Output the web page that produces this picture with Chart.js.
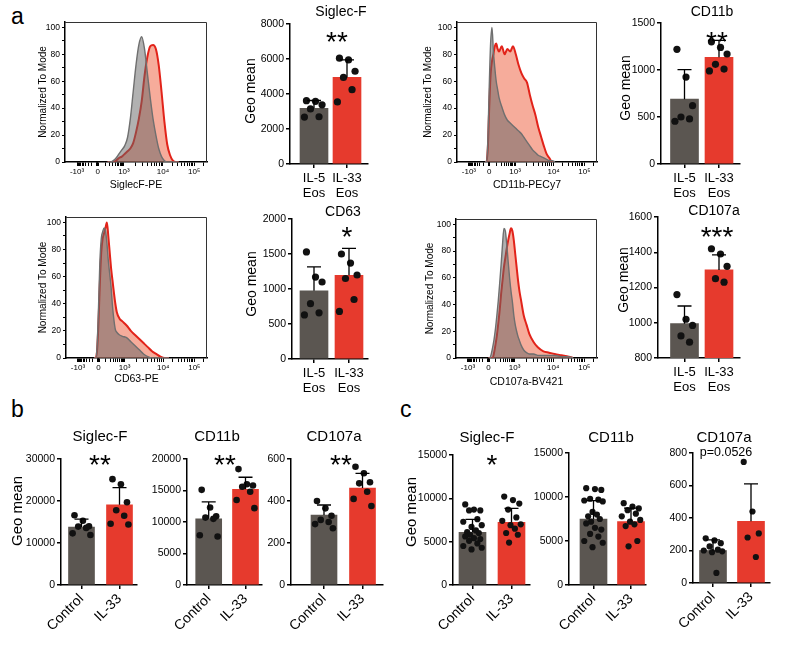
<!DOCTYPE html>
<html>
<head>
<meta charset="utf-8">
<title>Eosinophil activation markers</title>
<script src="https://cdn.jsdelivr.net/npm/chart.js@4.4.1/dist/chart.umd.min.js"></script>
<style>
  html, body { margin: 0; padding: 0; background: #fff; }
  body { position: relative; width: 800px; height: 649px; overflow: hidden; font-family: "Liberation Sans", Arial, sans-serif; }
  canvas { position: absolute; }
  .panel { position: absolute; font-size: 23px; line-height: 1; color: #000; }
</style>
</head>
<body>
<div class="panel" style="left:11px;top:5px">a</div>
<div class="panel" style="left:11px;top:398px">b</div>
<div class="panel" style="left:400px;top:398px">c</div>
<script>
const FONT = '"Liberation Sans", Arial, Helvetica, sans-serif';
const GREY = '#5b5651';
const RED = '#e63a2d';
Chart.defaults.font.family = FONT;
Chart.defaults.color = '#000';

// ---- panel a histograms: x = display channel (0-1000), y = % of mode
const logTickPos = [85, 230, 415, 690, 910];
const logTickLab = ['-10³', '0', '10³', '10⁴', '10⁵'];

const siglecX = [300, 320, 340, 360, 380, 400, 420, 440, 460, 480, 500, 520, 540, 560, 580, 600, 620, 640, 660, 680, 700, 720, 740, 760, 780, 800];
const siglecIL5 = [0, 0, 1, 3, 6, 9, 12, 18, 32, 52, 72, 87, 93, 84, 66, 48, 32, 20, 10, 4, 1, 0, 0, 0, 0, 0];
const siglecIL33 = [0, 0, 0, 1, 3, 4, 6, 8, 10, 14, 22, 32, 45, 64, 78, 86, 87, 84, 72, 52, 30, 13, 5, 1, 0, 0];

const cd11bX = [200, 210, 220, 230, 240, 250, 260, 270, 280, 290, 300, 320, 340, 360, 380, 400, 420, 440, 460, 480, 500, 520, 540, 560, 580, 600, 620, 640, 660, 680, 700];
const cd11bIL5 = [0, 0, 15, 55, 88, 100, 82, 70, 60, 54, 48, 41, 35, 31, 29, 27, 25, 23, 21, 18, 15, 12, 9, 7, 5, 4, 3, 2, 1, 1, 0];
const cd11bIL33 = [0, 0, 10, 40, 65, 75, 80, 86, 88, 84, 82, 86, 80, 84, 82, 86, 80, 72, 66, 62, 59, 50, 42, 35, 26, 19, 12, 6, 3, 0, 0];

const cd63X = [200, 210, 220, 230, 240, 250, 260, 270, 280, 290, 300, 310, 320, 330, 340, 350, 360, 380, 400, 430, 460, 490, 520, 550, 580, 610, 640, 670, 700, 730];
const cd63IL5 = [0, 0, 8, 35, 70, 88, 93, 96, 94, 85, 72, 62, 52, 38, 28, 21, 19, 17, 16, 15, 12, 9, 6, 3, 1, 0, 0, 0, 0, 0];
const cd63IL33 = [0, 0, 5, 25, 55, 78, 88, 92, 96, 100, 90, 78, 66, 57, 48, 40, 34, 29, 27, 24, 20, 17, 14, 11, 8, 5, 3, 1, 0, 0];

const cd107X = [230, 240, 250, 260, 270, 280, 290, 300, 310, 320, 330, 340, 350, 360, 370, 380, 390, 400, 410, 420, 430, 440, 450, 460, 480, 500, 520, 550, 580, 620, 660, 700, 750, 800, 830];
const cd107IL5 = [0, 0, 3, 8, 14, 22, 32, 43, 56, 70, 85, 97, 95, 85, 72, 60, 50, 42, 32, 25, 20, 16, 13, 10, 6, 4, 3, 3, 2, 2, 2, 2, 1, 1, 0];
const cd107IL33 = [0, 0, 0, 0, 4, 10, 17, 26, 36, 48, 58, 68, 75, 82, 88, 93, 97, 95, 88, 78, 68, 58, 50, 44, 32, 25, 18, 12, 8, 5, 4, 3, 2, 1, 0];

// ---- bar graphs: group means, SD and single values
const eosGroups = [['IL-5', 'Eos'], ['IL-33', 'Eos']];
const treatGroups = ['Control', 'IL-33'];

const aSiglecMean = [3180, 4950];
const aSiglecSd = [450, 1000];
const aSiglecIL5 = [3620, 3580, 3380, 3150, 2700, 2680];
const aSiglecIL33 = [6050, 5950, 5300, 4950, 4250, 3550];

const aCd11bMean = [690, 1135];
const aCd11bSd = [315, 180];
const aCd11bIL5 = [1220, 925, 620, 500, 480, 455];
const aCd11bIL33 = [1300, 1240, 1170, 1060, 1010, 990];

const aCd63Mean = [975, 1195];
const aCd63Sd = [340, 385];
const aCd63IL5 = [1530, 1170, 1100, 790, 660, 630];
const aCd63IL33 = [1500, 1370, 1200, 1150, 850, 680];

const aCd107Mean = [995, 1300];
const aCd107Sd = [100, 85];
const aCd107IL5 = [1160, 1020, 985, 925, 890];
const aCd107IL33 = [1420, 1390, 1320, 1250, 1230];

const bSiglecMean = [13800, 19100];
const bSiglecSd = [1900, 4100];
const bSiglecCtrl = [16600, 15300, 14000, 13900, 13600, 12300, 11900];
const bSiglecIL33 = [25200, 24000, 19700, 17800, 16500, 14600, 14400];

const bCd11bMean = [10500, 15200];
const bCd11bSd = [2700, 1900];
const bCd11bCtrl = [15100, 12300, 10900, 10700, 10500, 7900, 7700];
const bCd11bIL33 = [18400, 16000, 15800, 15600, 14800, 13500, 12200];

const bCd107Mean = [333, 462];
const bCd107Sd = [48, 70];
const bCd107Ctrl = [400, 365, 330, 310, 300, 290, 270];
const bCd107IL33 = [563, 532, 489, 484, 444, 410, 376];

const cSiglecMean = [6080, 7230];
const cSiglecSd = [1500, 1620];
const cSiglecCtrl = [9300, 8700, 8600, 8600, 7600, 7300, 6900, 6700, 6300, 6100, 6000, 5800, 5600, 5400, 5300, 5100, 4800, 4500, 4300, 4100];
const cSiglecIL33 = [10200, 9800, 9400, 8700, 7800, 7400, 7000, 6900, 6500, 6000, 5800, 4900];

const cCd11bMean = [7480, 7210];
const cCd11bSd = [2100, 1520];
const cCd11bCtrl = [11000, 10900, 10800, 9800, 9700, 9600, 9500, 8300, 8000, 7800, 7500, 7200, 7000, 6500, 6300, 5800, 5500, 5000, 4800, 4300];
const cCd11bIL33 = [9300, 8900, 8700, 8500, 8100, 7800, 7400, 7200, 6900, 6700, 5000, 4400];

const cCd107Mean = [200, 380];
const cCd107Sd = [66, 230];
const cCd107Ctrl = [275, 262, 245, 225, 205, 200, 195, 190, 62];
const cCd107IL33 = [745, 440, 305, 280, 160];

// horizontal spread of the dots inside a bar (fraction of half spread)
const JIT = [-0.75, 0.15, 0.8, -0.35, 0.5, -0.95, 0.95, -0.1, 0.35, -0.55, 0.65, -0.25];

function makeCanvas(s) {
  const c = document.createElement('canvas');
  c.width = s.cw; c.height = s.ch;
  c.style.left = s.cl + 'px'; c.style.top = s.ct + 'px';
  c.style.width = s.cw + 'px'; c.style.height = s.ch + 'px';
  document.body.appendChild(c);
  return c;
}

// minor tick marks on the biexponential axis
function minorTicks() {
  const out = [];
  for (let k = 2; k <= 9; k++) {
    out.push(415 + 275 * Math.log10(k));
    out.push(690 + 220 * Math.log10(k));
  }
  out.push(910 + 220 * Math.log10(2));
  for (let k = 1; k <= 9; k++) {
    const f = Math.log10(1 + k) / Math.log10(11);
    out.push(230 + 185 * f, 230 - 145 * f);
  }
  [-8, -5, -2, 2, 5].forEach(d => out.push(230 + d));
  return out.filter(v => v > 0 && v < 1000);
}
const HIST_TICKS = logTickPos.concat(minorTicks()).sort((a, b) => a - b);

const boxPlugin = {
  id: 'box',
  afterDraw(chart) {
    const { ctx, chartArea: a } = chart;
    ctx.save();
    ctx.strokeStyle = '#333';
    ctx.lineWidth = 1;
    ctx.beginPath();
    ctx.moveTo(a.left, a.top + 0.5);
    ctx.lineTo(a.right - 0.5, a.top + 0.5);
    ctx.lineTo(a.right - 0.5, a.bottom);
    ctx.stroke();
    ctx.restore();
  }
};

function histChart(s) {
  const cv = makeCanvas(s);
  const pts = ys => s.x.map((v, i) => ({ x: v, y: ys[i] }));
  const ticksY = [];
  for (let v = 0; v <= 100; v += 5) ticksY.push(v);
  new Chart(cv, {
    type: 'line',
    data: {
      datasets: [
        { label: 'IL-5 Eos', data: pts(s.il5), borderColor: '#6f6f6f', borderWidth: 1.4,
          backgroundColor: 'rgba(100,100,100,0.5)', fill: 'origin', pointRadius: 0, cubicInterpolationMode: 'monotone' },
        { label: 'IL-33 Eos', data: pts(s.il33), borderColor: '#e2231a', borderWidth: 2,
          backgroundColor: 'rgba(239,104,72,0.55)', fill: 'origin', pointRadius: 0, cubicInterpolationMode: 'monotone' }
      ]
    },
    options: {
      responsive: false, animation: false, events: [],
      layout: { padding: { top: s.t - s.ct, right: s.cl + s.cw - s.r, left: 0, bottom: 0 } },
      plugins: { legend: { display: false }, tooltip: { enabled: false } },
      scales: {
        x: {
          type: 'linear', min: 0, max: 1000,
          afterBuildTicks: sc => { sc.ticks = HIST_TICKS.map(v => ({ value: v })); },
          afterFit: sc => { sc.height = s.ct + s.ch - s.b; },
          ticks: {
            autoSkip: false, maxRotation: 0, padding: 1, font: { size: 8 },
            callback: v => { const i = logTickPos.indexOf(v); return i < 0 ? '' : logTickLab[i]; }
          },
          grid: { drawOnChartArea: false, tickLength: 4, color: '#000', lineWidth: 1 },
          border: { color: '#000', width: 1.5 },
          title: { display: true, text: s.xTitle, font: { size: 10.5 }, padding: 0, color: '#000' }
        },
        y: {
          min: 0, max: 104,
          afterBuildTicks: sc => { sc.ticks = ticksY.map(v => ({ value: v })); },
          afterFit: sc => { sc.width = s.l - s.cl; },
          ticks: { padding: 2, font: { size: 8.5 }, callback: v => (v % 20 === 0 ? String(v) : '') },
          grid: { drawOnChartArea: false, tickLength: 3, color: '#000', lineWidth: 1 },
          border: { color: '#000', width: 1.5 },
          title: { display: true, text: 'Normalized To Mode', font: { size: 10 }, padding: 0, color: '#000' }
        }
      }
    },
    plugins: [boxPlugin]
  });
}

function barDecor(s) {
  return {
    id: 'decor',
    afterDatasetsDraw(chart) {
      const { ctx, scales } = chart;
      const x = scales.x, y = scales.y;
      const ox = s.cl, oy = s.ct;
      ctx.save();
      ctx.strokeStyle = '#000';
      ctx.lineWidth = 1.3;
      s.means.forEach((m, i) => {
        const px = x.getPixelForValue(i);
        const y0 = y.getPixelForValue(m), y1 = y.getPixelForValue(m + s.sds[i]);
        ctx.beginPath();
        ctx.moveTo(px, y0); ctx.lineTo(px, y1);
        ctx.moveTo(px - 7, y1); ctx.lineTo(px + 7, y1);
        ctx.stroke();
      });
      ctx.fillStyle = '#000';
      ctx.textAlign = 'center';
      ctx.textBaseline = 'middle';
      ctx.font = s.tf + 'px ' + FONT;
      ctx.fillText(s.title, s.tx - ox, s.ty - oy);
      if (s.note) {
        ctx.font = '12.5px ' + FONT;
        ctx.fillText(s.note, s.nx - ox, s.ny - oy);
      }
      if (s.star) {
        ctx.font = '28px ' + FONT;
        ctx.textBaseline = 'alphabetic';
        ctx.fillText(s.star, s.sx - ox, s.sy - oy + 16);
      }
      if (s.geo) {
        ctx.translate(s.geo[0] - ox, s.geo[1] - oy);
        ctx.rotate(-Math.PI / 2);
        ctx.textBaseline = 'middle';
        ctx.font = s.gf + 'px ' + FONT;
        ctx.fillText('Geo mean', 0, 0);
      }
      ctx.restore();
    }
  };
}

function barChart(s) {
  s.cl = Math.max(0, Math.round(s.l - (s.geo ? 62 : 48)));
  s.ct = Math.max(0, Math.round(s.t - 32));
  s.cw = Math.round(s.r + 10 - s.cl);
  s.ch = s.rot ? 649 - s.ct : Math.round(s.b + 42 - s.ct);
  const cv = makeCanvas(s);
  const unit = s.c[1] - s.c[0];
  const xmin = -(s.c[0] - s.l) / unit;
  const xmax = 1 + (s.r - s.c[1]) / unit;
  const spread = s.bw * 0.36 / unit;
  const dots = [];
  s.pts.forEach((arr, g) => arr.forEach((v, k) => dots.push({ x: g + JIT[k % JIT.length] * spread, y: v })));
  const axisGrid = { drawOnChartArea: false, tickLength: 4, color: '#000', lineWidth: 1.5, offset: false };
  new Chart(cv, {
    type: 'bar',
    data: {
      datasets: [
        { type: 'scatter', data: dots, pointRadius: s.dot, backgroundColor: '#111', borderWidth: 0, order: 0 },
        { type: 'bar', data: s.means.map((m, i) => ({ x: i, y: m })), backgroundColor: [GREY, RED],
          borderWidth: 0, barThickness: s.bw, order: 1 }
      ]
    },
    options: {
      responsive: false, animation: false, events: [],
      layout: { padding: { top: s.t - s.ct, right: s.cl + s.cw - s.r, left: 0, bottom: 0 } },
      plugins: { legend: { display: false }, tooltip: { enabled: false } },
      scales: {
        x: {
          type: 'linear', min: xmin, max: xmax, offset: false,
          afterBuildTicks: sc => { sc.ticks = [{ value: 0 }, { value: 1 }]; },
          afterFit: sc => { sc.height = s.ct + s.ch - s.b; },
          ticks: {
            autoSkip: false, maxRotation: s.rot, minRotation: s.rot, padding: s.rot ? 2 : 3,
            font: { size: s.lf, lineHeight: 1.15 }, color: '#000',
            callback: v => s.labels[v]
          },
          grid: axisGrid,
          border: { color: '#000', width: 1.5 }
        },
        y: {
          min: s.ymin, max: s.ymax,
          ticks: { stepSize: s.step, padding: 2, font: { size: s.kf }, color: '#000', callback: v => String(v) },
          afterFit: sc => { sc.width = s.l - s.cl; },
          grid: axisGrid,
          border: { color: '#000', width: 1.5 }
        }
      }
    },
    plugins: [barDecor(s)]
  });
}

// ---- panel a
histChart({ cl: 37, ct: 10, cw: 175, ch: 181, l: 65, t: 22, r: 207, b: 162, x: siglecX, il5: siglecIL5, il33: siglecIL33, xTitle: 'SiglecF-PE' });
histChart({ cl: 422, ct: 10, cw: 180, ch: 181, l: 457, t: 22, r: 597, b: 162, x: cd11bX, il5: cd11bIL5, il33: cd11bIL33, xTitle: 'CD11b-PECy7' });
histChart({ cl: 37, ct: 205, cw: 175, ch: 180, l: 66, t: 217, r: 207, b: 358, x: cd63X, il5: cd63IL5, il33: cd63IL33, xTitle: 'CD63-PE' });
histChart({ cl: 424, ct: 205, cw: 178, ch: 183, l: 456, t: 219, r: 597, b: 358, x: cd107X, il5: cd107IL5, il33: cd107IL33, xTitle: 'CD107a-BV421' });

const aStyle = { bw: 28, dot: 3.6, rot: 0, kf: 10.5, lf: 13, tf: 14, gf: 14, labels: eosGroups };
barChart(Object.assign({}, aStyle, { l: 290, t: 24, r: 368, b: 164, c: [314, 347], ymin: 0, ymax: 8000, step: 2000,
  means: aSiglecMean, sds: aSiglecSd, pts: [aSiglecIL5, aSiglecIL33],
  title: 'Siglec-F', tx: 341, ty: 12, star: '**', sx: 337, sy: 35, geo: [251, 91] }));
barChart(Object.assign({}, aStyle, { l: 661, t: 23, r: 740, b: 164, c: [684.5, 719], ymin: 0, ymax: 1500, step: 500,
  means: aCd11bMean, sds: aCd11bSd, pts: [aCd11bIL5, aCd11bIL33],
  title: 'CD11b', tx: 712, ty: 12, star: '**', sx: 717, sy: 35, geo: [626, 88] }));
barChart(Object.assign({}, aStyle, { l: 292, t: 219, r: 368, b: 359, c: [314, 349], ymin: 0, ymax: 2000, step: 500,
  means: aCd63Mean, sds: aCd63Sd, pts: [aCd63IL5, aCd63IL33],
  title: 'CD63', tx: 343, ty: 212, star: '*', sx: 347, sy: 230, geo: [252, 284] }));
barChart(Object.assign({}, aStyle, { l: 658, t: 217, r: 740, b: 358, c: [684.5, 719], ymin: 800, ymax: 1600, step: 200,
  means: aCd107Mean, sds: aCd107Sd, pts: [aCd107IL5, aCd107IL33],
  title: 'CD107a', tx: 714, ty: 211, star: '***', sx: 717, sy: 230, geo: [624, 280] }));

// ---- panel b
const bStyle = { bw: 26, dot: 3.3, rot: 45, kf: 10.5, lf: 14, tf: 15, gf: 15, labels: treatGroups };
barChart(Object.assign({}, bStyle, { l: 61, t: 459, r: 137, b: 585, c: [81.5, 119.5], ymin: 0, ymax: 30000, step: 10000,
  means: bSiglecMean, sds: bSiglecSd, pts: [bSiglecCtrl, bSiglecIL33],
  title: 'Siglec-F', tx: 100, ty: 437, star: '**', sx: 100, sy: 458, geo: [18, 511] }));
barChart(Object.assign({}, bStyle, { l: 187, t: 459, r: 262, b: 585, c: [208.7, 245.5], ymin: 0, ymax: 20000, step: 5000,
  means: bCd11bMean, sds: bCd11bSd, pts: [bCd11bCtrl, bCd11bIL33],
  title: 'CD11b', tx: 217, ty: 437, star: '**', sx: 225, sy: 458 }));
barChart(Object.assign({}, bStyle, { l: 291, t: 459, r: 383, b: 585, c: [324, 362.5], ymin: 0, ymax: 600, step: 200,
  means: bCd107Mean, sds: bCd107Sd, pts: [bCd107Ctrl, bCd107IL33],
  title: 'CD107a', tx: 334, ty: 437, star: '**', sx: 341, sy: 458 }));

// ---- panel c
const cStyle = { bw: 27, dot: 3.1, rot: 45, kf: 10.5, lf: 14, tf: 15, gf: 15, labels: treatGroups };
barChart(Object.assign({}, cStyle, { l: 453, t: 455, r: 530, b: 585, c: [472.5, 511.5], ymin: 0, ymax: 15000, step: 5000,
  means: cSiglecMean, sds: cSiglecSd, pts: [cSiglecCtrl, cSiglecIL33],
  title: 'Siglec-F', tx: 487, ty: 438, star: '*', sx: 492, sy: 458, geo: [412, 512] }));
barChart(Object.assign({}, cStyle, { l: 569, t: 453, r: 646, b: 585, c: [593.5, 631], ymin: 0, ymax: 15000, step: 5000,
  means: cCd11bMean, sds: cCd11bSd, pts: [cCd11bCtrl, cCd11bIL33],
  title: 'CD11b', tx: 611, ty: 438 }));
barChart(Object.assign({}, cStyle, { l: 693, t: 453, r: 770, b: 583, c: [713, 751], ymin: 0, ymax: 800, step: 200,
  means: cCd107Mean, sds: cCd107Sd, pts: [cCd107Ctrl, cCd107IL33],
  title: 'CD107a', tx: 724, ty: 438, note: 'p=0.0526', nx: 726, ny: 453 }));
</script>
</body>
</html>
